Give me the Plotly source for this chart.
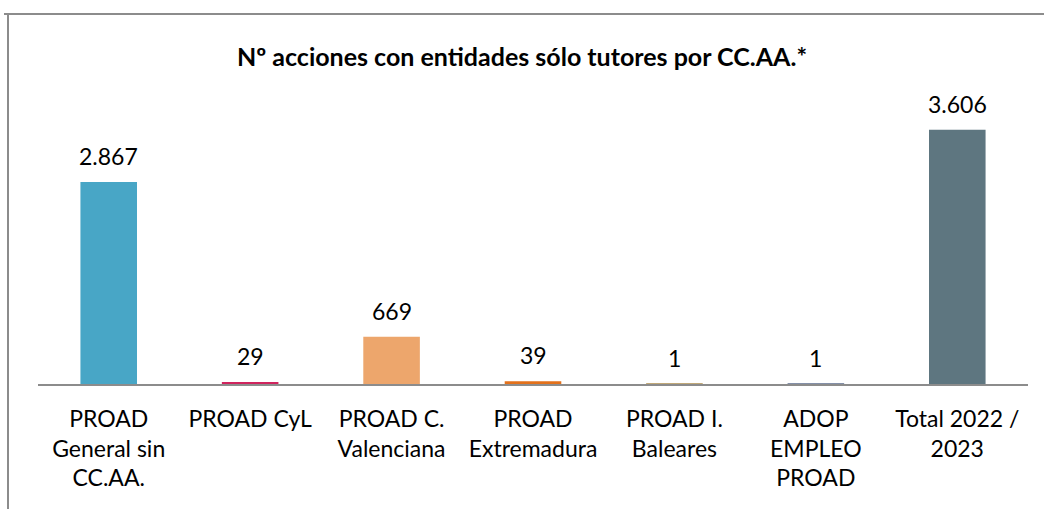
import plotly.graph_objects as go

categories = ["PROAD<br>General sin<br>CC.AA.", "PROAD CyL", "PROAD C.<br>Valenciana",
              "PROAD<br>Extremadura", "PROAD I.<br>Baleares", "ADOP<br>EMPLEO<br>PROAD",
              "Total 2022 /<br>2023"]
values = [2867, 29, 669, 39, 1, 1, 3606]
labels = ["2.867", "29", "669", "39", "1", "1", "3.606"]
colors = ["#48A6C6", "#D0245E", "#EDA66C", "#E3711B", "#C0A878", "#8490A8", "#5E7680"]

FONT = "Lato, 'Open Sans', sans-serif"

xs = list(range(len(categories)))
fig = go.Figure(go.Bar(
    x=xs, y=values, marker=dict(color=colors, line=dict(width=0)),
    width=0.4, hoverinfo="skip",
))

L, R, T, B = 38, 16, 102, 125
W, H = 1044, 509
pw, ph = W - L - R, H - T - B

def px_x(px):
    return (px - L) / pw

def px_y(py):
    return (H - B - py) / ph

annotations = [
    dict(x=x, y=v, xref="x", yref="y", text=t, showarrow=False,
         yanchor="bottom", xanchor="center", yshift=10,
         font=dict(family=FONT, size=23, color="#000000"))
    for x, v, t in zip(xs, values, labels)
]

fig.update_layout(
    width=W, height=H, margin=dict(l=L, r=R, t=T, b=B),
    paper_bgcolor="white", plot_bgcolor="white",
    showlegend=False,
    title=dict(text="<b>Nº acciones con entidades sólo tutores por CC.AA.*</b>",
               x=0.5, xanchor="center", y=1 - 57 / H, yanchor="middle",
               font=dict(family=FONT, size=25, color="#000000")),
    font=dict(family=FONT, color="#000000"),
    xaxis=dict(tickmode="array", tickvals=xs, ticktext=categories,
               range=[-0.5, len(categories) - 0.5], showgrid=False, zeroline=False,
               showline=True, linecolor="#8c8c8c", linewidth=2, ticks="",
               ticklabelstandoff=13,
               tickfont=dict(family=FONT, size=23, color="#000000")),
    yaxis=dict(range=[0, 4000], visible=False, showgrid=False, zeroline=False),
    annotations=annotations,
    shapes=[
        dict(type="line", xref="paper", yref="paper", x0=px_x(4), x1=px_x(1044),
             y0=px_y(14), y1=px_y(14), line=dict(color="#8c8c8c", width=2)),
        dict(type="line", xref="paper", yref="paper", x0=px_x(8), x1=px_x(8),
             y0=px_y(14), y1=px_y(509), line=dict(color="#8c8c8c", width=2)),
    ],
)

fig.write_html("out.html", config={"displayModeBar": False},
               post_script="document.body.style.margin='0px';")
